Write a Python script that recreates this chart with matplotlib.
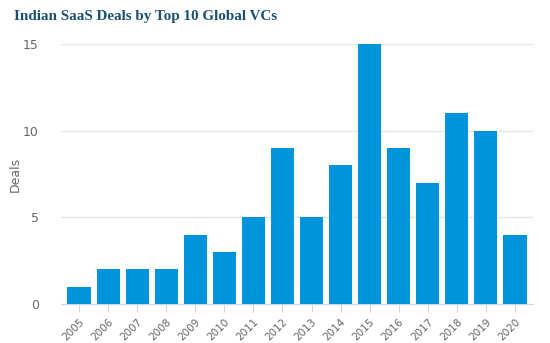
import matplotlib.pyplot as plt
import numpy as np

years = ['2005', '2006', '2007', '2008', '2009', '2010', '2011', '2012',
         '2013', '2014', '2015', '2016', '2017', '2018', '2019', '2020']
deals = [1, 2, 2, 2, 4, 3, 5, 9, 5, 8, 15, 9, 7, 11, 10, 4]

fig = plt.figure(figsize=(5.5, 3.43), dpi=100)
ax = fig.add_axes([0.111, 0.1137, 0.858, 0.758])

x = np.arange(len(years))
ax.bar(x, deals, width=0.8, color='#0095da', zorder=3)

ax.set_xlim(-0.62, 15.62)
ax.set_ylim(0, 15)
ax.set_yticks([0, 5, 10, 15])
ax.yaxis.grid(True, color='#e6e6e6', linewidth=1, zorder=0)
ax.tick_params(axis='y', length=0, labelsize=9, labelcolor='#666666', pad=16)

ax.set_xticks(x)
ax.set_xticklabels(years, rotation=45, ha='right', rotation_mode='anchor')
ax.tick_params(axis='x', length=6, color='#ccd6eb', labelsize=7.5,
               labelcolor='#666666', pad=3)

for s in ['top', 'right', 'left']:
    ax.spines[s].set_visible(False)
ax.spines['bottom'].set_color('#ccd6eb')

ax.set_ylabel('Deals', fontsize=9, color='#666666', labelpad=1)

fig.text(0.025, 0.953, 'Indian SaaS Deals by Top 10 Global VCs', fontsize=10.9,
         fontweight='bold', family='Liberation Serif', color='#1b4f72', va='center')

fig.savefig('out.png', dpi=100)
